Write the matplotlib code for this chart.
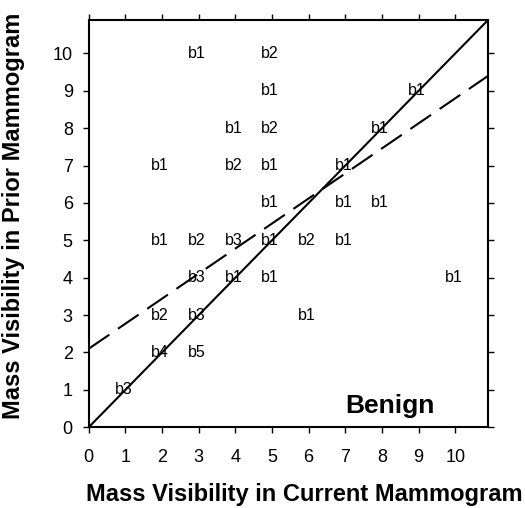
import matplotlib
matplotlib.use('Agg')
import matplotlib.pyplot as plt
import numpy as np

plt.rcParams['font.family'] = ['Liberation Sans', 'DejaVu Sans']

# cell labels: current visibility, prior visibility, label
xs = [3, 5, 5, 9, 4, 5, 8, 2, 4, 5, 7, 5, 7, 8, 2, 3, 4, 5, 6, 7, 3, 4, 5, 10, 2, 3, 6, 2, 3, 1]
ys = [10, 10, 9, 9, 8, 8, 8, 7, 7, 7, 7, 6, 6, 6, 5, 5, 5, 5, 5, 5, 4, 4, 4, 4, 3, 3, 3, 2, 2, 1]
labels = ['b1', 'b2', 'b1', 'b1', 'b1', 'b2', 'b1', 'b1', 'b2', 'b1', 'b1', 'b1', 'b1', 'b1',
          'b1', 'b2', 'b3', 'b1', 'b2', 'b1', 'b3', 'b1', 'b1', 'b1', 'b2', 'b3', 'b1', 'b4', 'b5', 'b3']

# regression line (dashed)
fit_intercept = 2.1
fit_slope = 0.67

xmax = 10.9
ymax = 10.9

fig = plt.figure(figsize=(5.25, 5.08), dpi=100)
ax = fig.add_axes([0.169, 0.159, 0.761, 0.802])

for x, y, s in zip(xs, ys, labels):
    ax.text(x - 0.05, y, s, ha='center', va='center', fontsize=11.5)

xx = np.array([0, xmax])
ax.plot(xx, xx, color='black', lw=1.5)
ax.plot(xx, fit_intercept + fit_slope * xx, color='black', lw=1.5, dashes=(12, 5))

ax.text(7.0, 0.38, 'Benign', fontsize=19, fontweight='bold', ha='left', va='baseline')

ax.set_xlim(0, xmax)
ax.set_ylim(0, ymax)
ax.set_xticks(range(0, 11))
ax.set_yticks(range(0, 11))
ax.tick_params(direction='out', length=4.5, width=1, labelsize=13, top=True, right=True)
ax.tick_params(axis='x', pad=11)
ax.tick_params(axis='y', pad=7)
for sp in ax.spines.values():
    sp.set_linewidth(1.5)

fig.text(304 / 525, 1 - 495 / 508, 'Mass Visibility in Current Mammogram',
         fontsize=17, fontweight='bold', ha='center', va='center')
fig.text(14 / 525, 1 - 216 / 508, 'Mass Visibility in Prior Mammogram',
         fontsize=17, fontweight='bold', ha='center', va='center', rotation=90)

fig.savefig('out.png', dpi=100)
